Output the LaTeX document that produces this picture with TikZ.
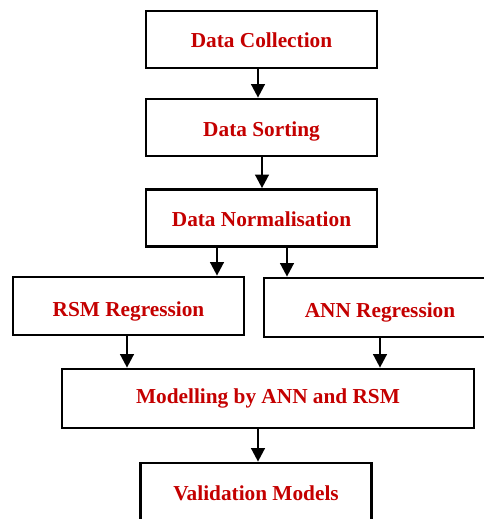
\documentclass[tikz,border=0pt]{standalone}
\usepackage{fontspec}
\setmainfont{Liberation Serif}
\usepackage{xcolor}
\usetikzlibrary{arrows.meta, positioning}

\definecolor{stepred}{RGB}{196,0,0}

\begin{document}
\begin{tikzpicture}[
  x=1pt, y=-1pt,
  font=\fontsize{21.3}{25}\selectfont\bfseries,
  every node/.style={align=center, draw, line width=2.7pt, text=stepred, inner sep=0pt,
    text height=17pt, text depth=0pt},
  stage/.style={minimum width=231pt, minimum height=57pt},
  arr/.style={-{Triangle[length=13.5pt, width=13.5pt]}, line width=2.5pt},
]
\useasboundingbox (0,0) rectangle (484,519);
\clip (0,0) rectangle (484,519);

% Chain of data preparation
\node[stage] (collect) at (261.5,39.5) {Data Collection};
\node[stage] (sort) at (261.5,127.5) {Data Sorting};
\node[stage] (norm) at (261.5,218) {Data Normalisation};

% Two regressions
\node[stage, minimum height=58pt, text height=21pt] (rsm) at (128.5,306) {RSM Regression};
\node[stage, minimum width=232pt, minimum height=59pt, text height=19pt] (ann) at (380,307.5) {ANN Regression};

% Modelling and validation
\node[stage, minimum width=412pt, minimum height=59pt, text height=10pt] (model) at (268,398.5) {Modelling by ANN and RSM};
\node[stage] (valid) at (256,491.5) {Validation Models};

% arrows
\draw[arr] ([xshift=-3.5pt]collect.south) -- ([xshift=-3.5pt]sort.north);
\draw[arr] ([xshift=0.5pt]sort.south) -- ([xshift=0.5pt]norm.north);
\draw[arr] ([xshift=-44.5pt]norm.south) -- ([xshift=-44.5pt]norm.south |- rsm.north);
\draw[arr] ([xshift=25.5pt]norm.south) -- ([xshift=25.5pt]norm.south |- ann.north);
\draw[arr] ([xshift=-1.5pt]rsm.south) -- ([xshift=-1.5pt]rsm.south |- model.north);
\draw[arr] (ann.south) -- (ann.south |- model.north);
\draw[arr] ([xshift=2pt]valid.north |- model.south) -- ([xshift=2pt]valid.north);

\end{tikzpicture}
\end{document}
